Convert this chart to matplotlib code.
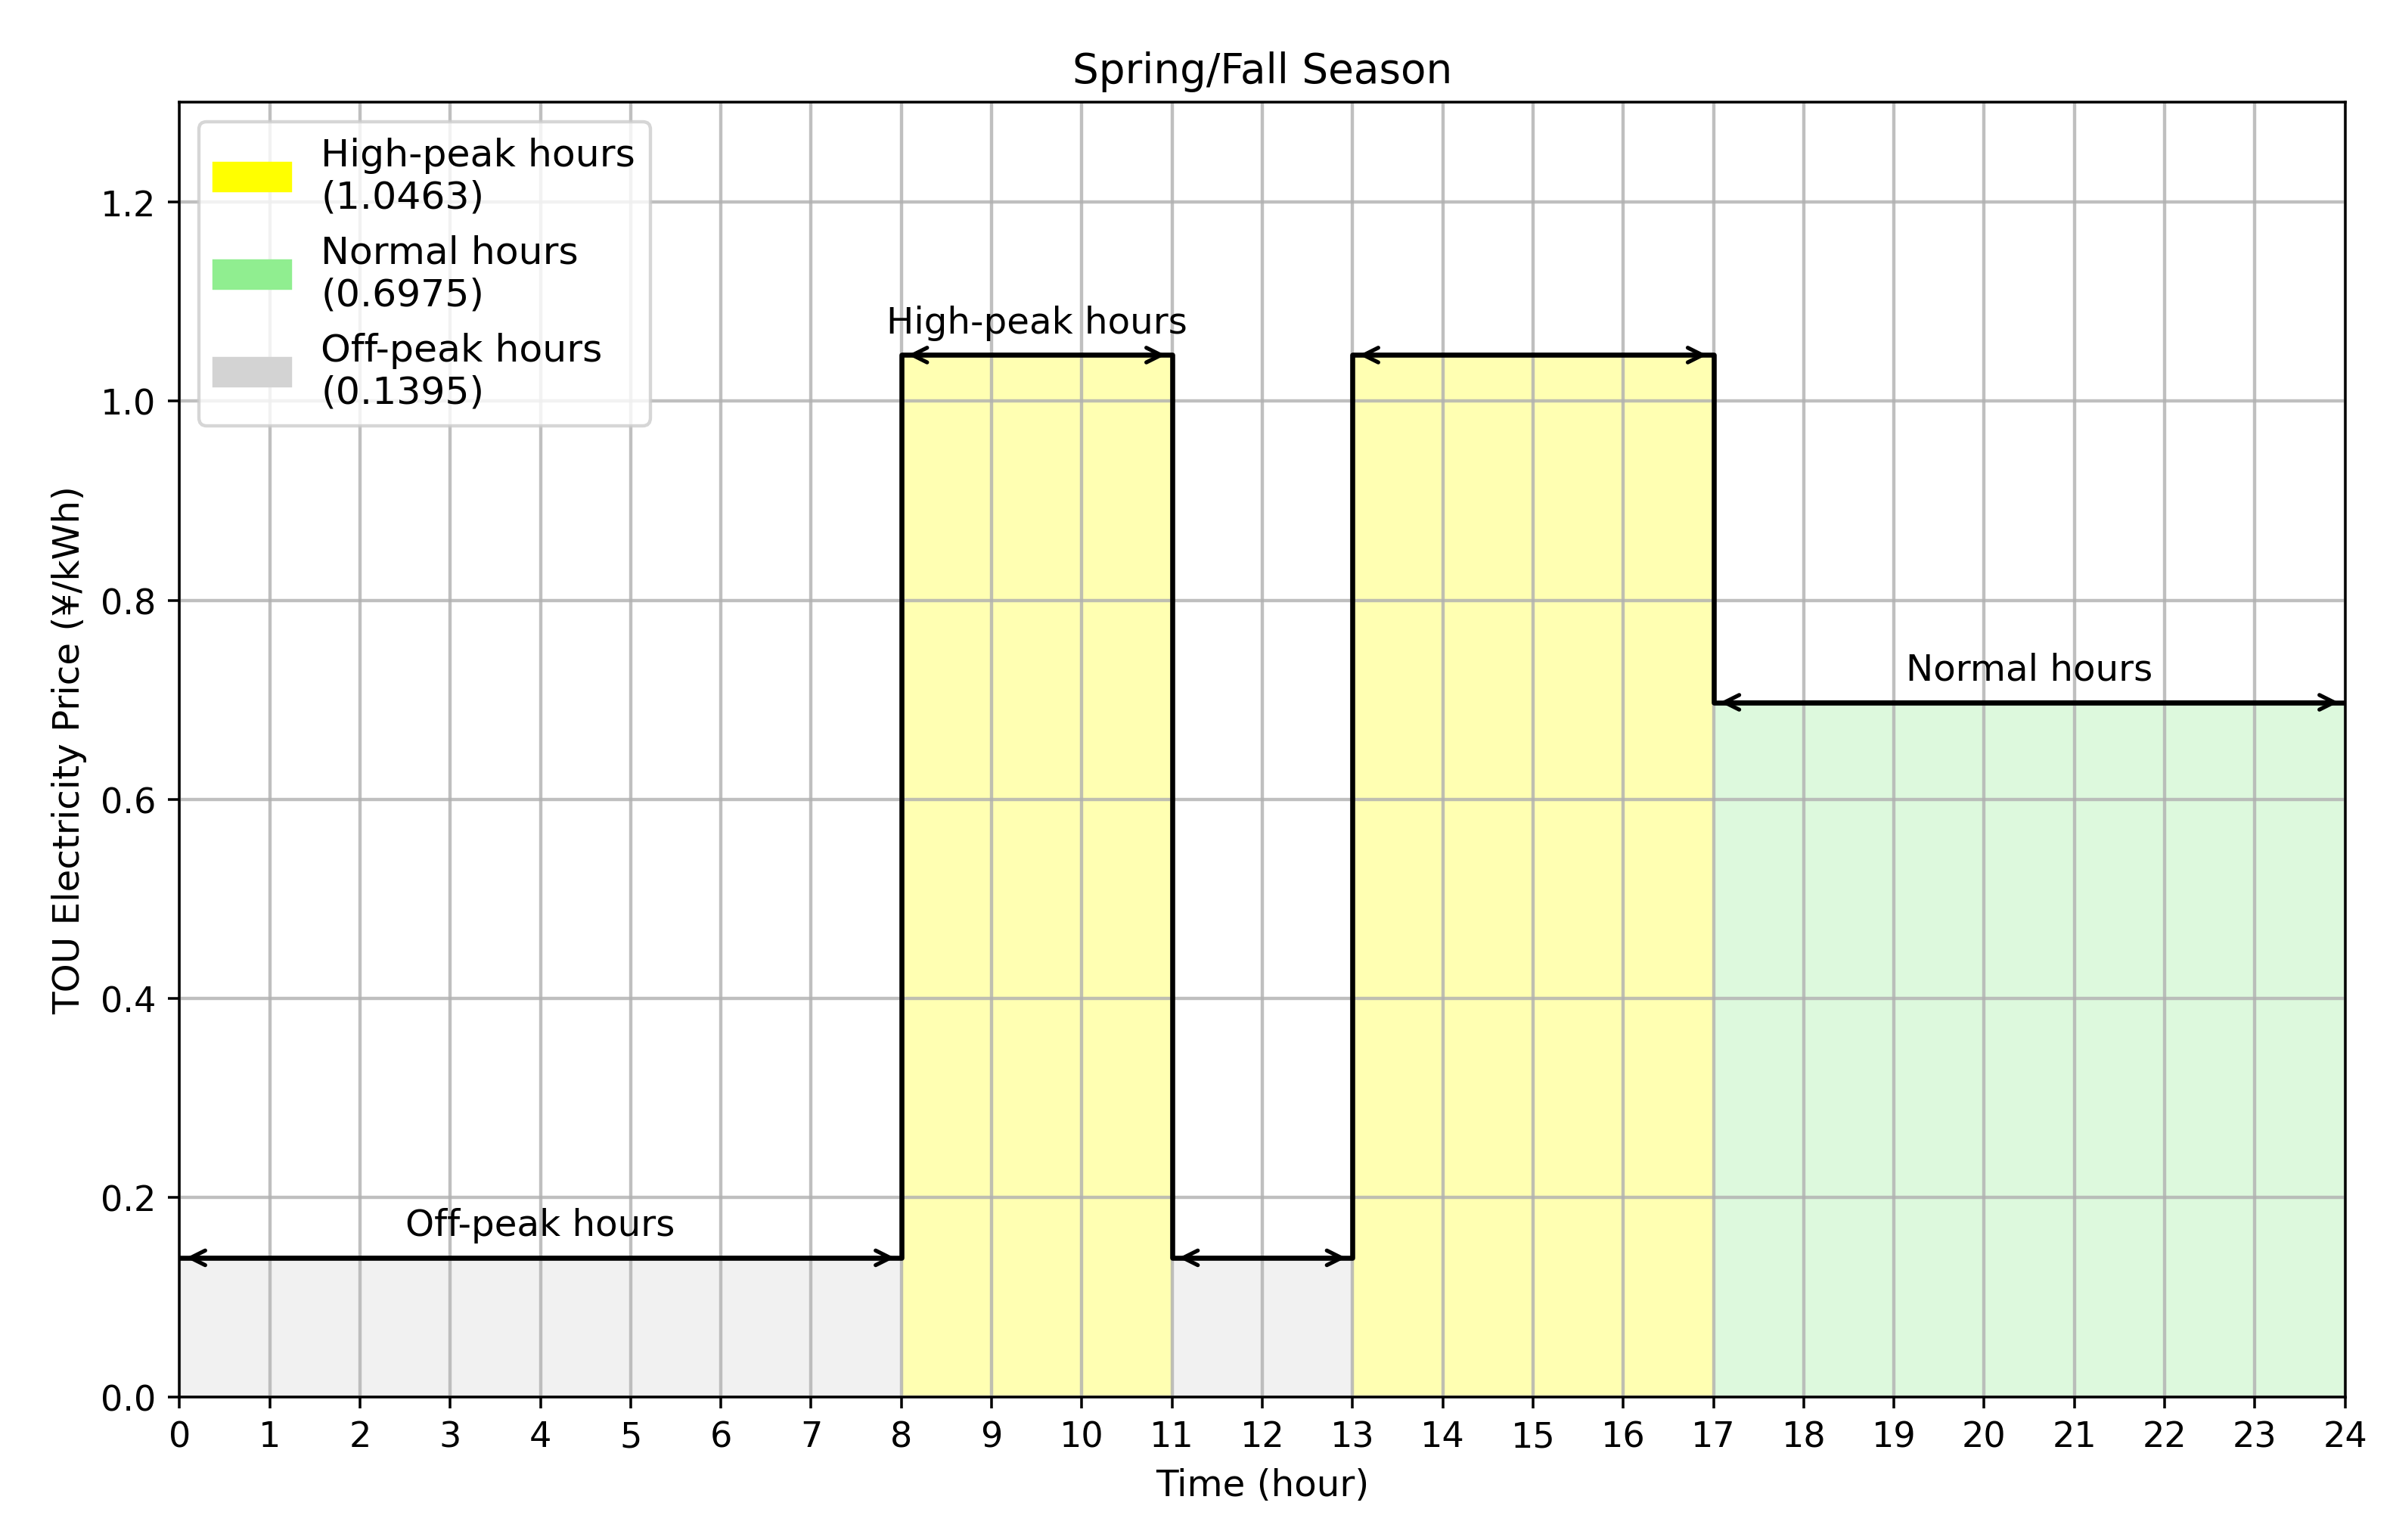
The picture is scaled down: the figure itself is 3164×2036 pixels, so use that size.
import matplotlib
matplotlib.use("Agg")
import matplotlib.pyplot as plt
from matplotlib.patches import Patch

# ── Data ──────────────────────────────────────────────────────────────────────
HIGH, NORMAL, OFF = 1.0463, 0.6975, 0.1395
seg_start = [0, 8, 11, 13, 17]
seg_end = [8, 11, 13, 17, 24]
seg_price = [OFF, HIGH, OFF, HIGH, NORMAL]
seg_kind = ["off", "high", "off", "high", "normal"]

colors = {"high": "yellow", "normal": "lightgreen", "off": "lightgray"}
labels = {"high": "High-peak hours", "normal": "Normal hours", "off": "Off-peak hours"}
prices = {"high": HIGH, "normal": NORMAL, "off": OFF}

plt.rcParams["font.size"] = 11

# ── Plot ──────────────────────────────────────────────────────────────────────
fig = plt.figure(figsize=(10, 6.438), dpi=316.4)
ax = fig.add_axes([0.075, 0.093, 0.905, 0.84])

for s, e, p, k in zip(seg_start, seg_end, seg_price, seg_kind):
    ax.fill_between([s, e], 0, p, color=colors[k], alpha=0.3, linewidth=0)

# step outline
xs, ys = [], []
for s, e, p in zip(seg_start, seg_end, seg_price):
    xs += [s, e]
    ys += [p, p]
ax.plot(xs, ys, color="black", linewidth=1.5)

# arrows
for s, e, p in zip(seg_start, seg_end, seg_price):
    ax.annotate("", xy=(s, p), xytext=(e, p),
                arrowprops=dict(arrowstyle="<->", color="black", lw=1.2))

ax.text(4, OFF + 0.015, "Off-peak hours", ha="center", va="bottom", fontsize=11)
ax.text(9.5, HIGH + 0.015, "High-peak hours", ha="center", va="bottom", fontsize=11)
ax.text(20.5, NORMAL + 0.015, "Normal hours", ha="center", va="bottom", fontsize=11)

ax.set_xlim(0, 24)
ax.set_ylim(0, 1.3)
ax.set_xticks(range(0, 25))
ax.tick_params(labelsize=10.5)
ax.grid(True, linewidth=1.0, alpha=0.8)
ax.set_xlabel("Time (hour)")
ax.set_ylabel("TOU Electricity Price (¥/kWh)")
ax.set_title("Spring/Fall Season", fontsize=12.5)

handles = [Patch(color=colors[k], label=f"{labels[k]}\n({prices[k]:.4f})")
           for k in ["high", "normal", "off"]]
ax.legend(handles=handles, loc="upper left", fontsize=11.5)

fig.savefig("out.png", dpi=316.4)
